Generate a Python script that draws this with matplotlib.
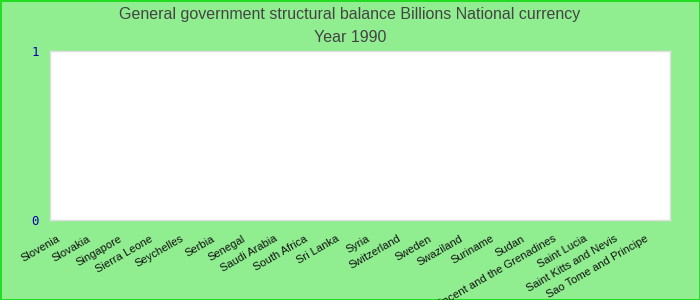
import matplotlib
matplotlib.use("Agg")
import matplotlib.pyplot as plt
import matplotlib.transforms as mtransforms
import numpy as np

categories = ["Slovenia", "Slovakia", "Singapore", "Sierra Leone", "Seychelles", "Serbia",
              "Senegal", "Saudi Arabia", "South Africa", "Sri Lanka", "Syria", "Switzerland",
              "Sweden", "Swaziland", "Suriname", "Sudan", "Saint Vincent and the Grenadines",
              "Saint Lucia", "Saint Kitts and Nevis", "Sao Tome and Principe"]
values = [np.nan] * len(categories)
yticks = [0, 1]

fig = plt.figure(figsize=(7, 3), dpi=100)
fig.patch.set_facecolor("#90EE90")
fig.patch.set_edgecolor("#22DD22")
fig.patch.set_linewidth(2)

ax = fig.add_axes([50/700, 1-220/300, 620/700, 169/300])
ax.set_facecolor("white")
x = np.arange(len(categories))
ax.bar(x, values, color="#4477cc")
ax.set_xlim(-0.5, len(categories) - 0.5)
ax.set_ylim(0, 1)
ax.set_yticks(yticks)
ax.set_yticklabels([str(t) for t in yticks], color="#0000aa", fontsize=9, family="DejaVu Sans Mono")
ax.tick_params(axis="y", length=0, pad=8)
ax.set_xticks(x)
ax.set_xticklabels(categories, rotation=30, ha="right", rotation_mode="anchor",
                   fontsize=8, color="#111111", family="Liberation Sans")
ax.tick_params(axis="x", length=0, pad=4)
offset = mtransforms.ScaledTranslation(-9/100, -8/100, fig.dpi_scale_trans)
for lbl in ax.get_xticklabels():
    lbl.set_transform(lbl.get_transform() + offset)
for s in ax.spines.values():
    s.set_color("#dddddd")
    s.set_linewidth(1)

fig.text(0.5, 1-15/300, "General government structural balance Billions National currency",
         ha="center", va="center", fontsize=11.5, color="#444444", family="Liberation Sans")
fig.text(0.5, 1-37/300, "Year 1990", ha="center", va="center", fontsize=11.5, color="#444444",
         family="Liberation Sans")

fig.savefig("out.png", dpi=100, facecolor=fig.get_facecolor(), edgecolor=fig.get_edgecolor())
